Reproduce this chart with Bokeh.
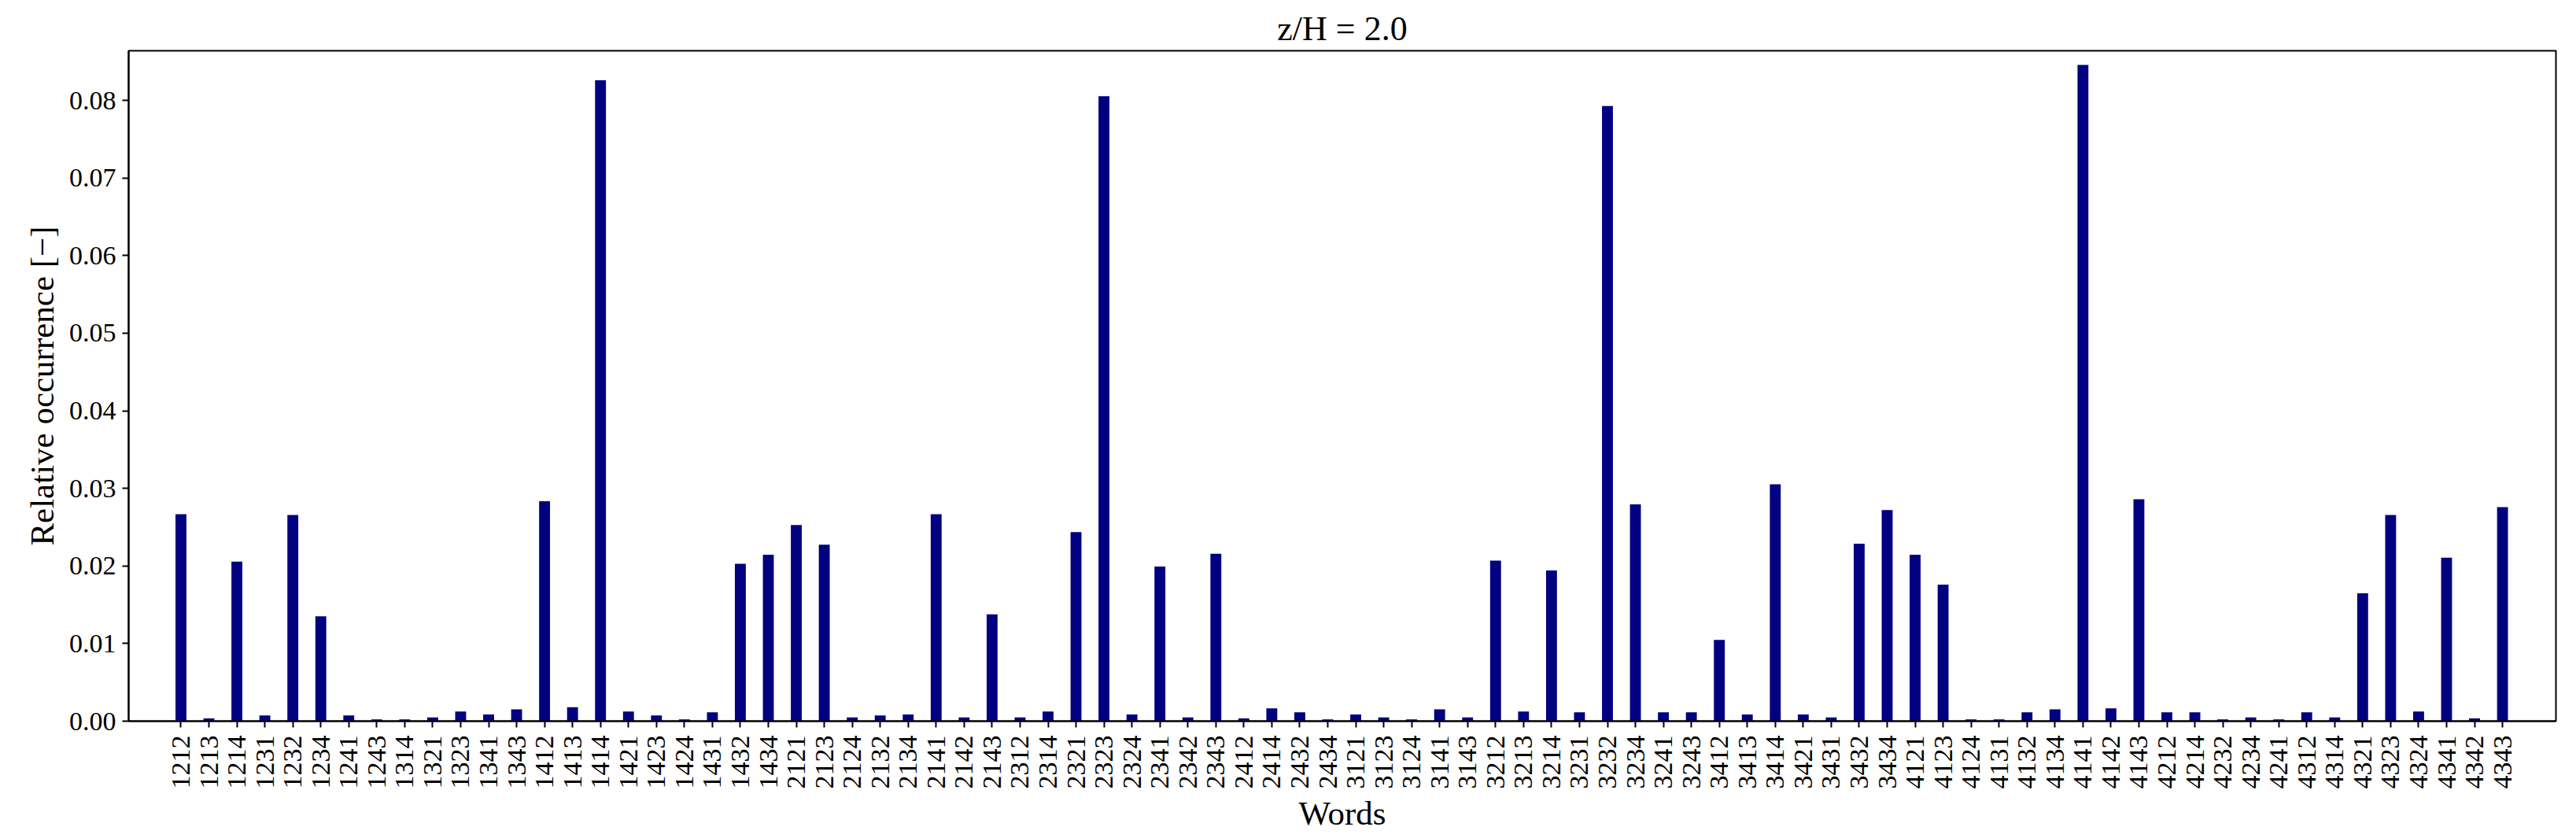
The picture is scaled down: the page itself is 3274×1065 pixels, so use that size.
import math
from bokeh.plotting import figure
from bokeh.models import Range1d, FixedTicker, NumeralTickFormatter
from bokeh.embed import file_html
from bokeh.resources import INLINE

words = ["1212", "1213", "1214", "1231", "1232", "1234", "1241", "1243", "1314", "1321",
         "1323", "1341", "1343", "1412", "1413", "1414", "1421", "1423", "1424", "1431",
         "1432", "1434", "2121", "2123", "2124", "2132", "2134", "2141", "2142", "2143",
         "2312", "2314", "2321", "2323", "2324", "2341", "2342", "2343", "2412", "2414",
         "2432", "2434", "3121", "3123", "3124", "3141", "3143", "3212", "3213", "3214",
         "3231", "3232", "3234", "3241", "3243", "3412", "3413", "3414", "3421", "3431",
         "3432", "3434", "4121", "4123", "4124", "4131", "4132", "4134", "4141", "4142",
         "4143", "4212", "4214", "4232", "4234", "4241", "4312", "4314", "4321", "4323",
         "4324", "4341", "4342", "4343"]

occurrence = [0.02667, 0.00036, 0.02055, 0.00073, 0.02656, 0.01352, 0.00073, 0.00022, 0.00022, 0.00047,
              0.00124, 0.00087, 0.00153, 0.02834, 0.00179, 0.08260, 0.00124, 0.00073, 0.00022, 0.00113,
              0.02029, 0.02146, 0.02528, 0.02273, 0.00047, 0.00073, 0.00087, 0.02667, 0.00047, 0.01377,
              0.00047, 0.00124, 0.02437, 0.08055, 0.00087, 0.01993, 0.00047, 0.02157, 0.00036, 0.00164,
              0.00113, 0.00022, 0.00087, 0.00047, 0.00022, 0.00153, 0.00047, 0.02069, 0.00124, 0.01942,
              0.00113, 0.07928, 0.02794, 0.00113, 0.00113, 0.01046, 0.00087, 0.03053, 0.00087, 0.00047,
              0.02288, 0.02721, 0.02146, 0.01760, 0.00022, 0.00022, 0.00113, 0.00153, 0.08457, 0.00164,
              0.02860, 0.00113, 0.00113, 0.00022, 0.00047, 0.00022, 0.00113, 0.00047, 0.01647, 0.02656,
              0.00124, 0.02106, 0.00036, 0.02758]

y_ticks = [0.0, 0.01, 0.02, 0.03, 0.04, 0.05, 0.06, 0.07, 0.08]

title_text = "z/H = 2.0"
x_label = "Words"
y_label = "Relative occurrence [\u2212]"

positions = list(range(len(words)))

FONT = "Liberation Serif"

x_start, x_end = -1.87, len(words) - 1 + 1.91
y_top = 0.0864

p = figure(width=3274, height=1065, output_backend="svg", toolbar_location=None,
           x_range=Range1d(x_start, x_end),
           y_range=Range1d(0, y_top),
           min_border_left=163, min_border_right=26, min_border_top=64, min_border_bottom=149)

p.vbar(x=positions, top=occurrence, width=0.39, fill_color="navy", line_color=None)

p.title.text = title_text
p.title.align = "center"
p.title.text_font = FONT
p.title.text_font_size = "44px"
p.title.text_font_style = "normal"
p.title.text_color = "black"
p.title.standoff = 8

p.xgrid.visible = False
p.ygrid.visible = False
p.outline_line_color = "black"
p.outline_line_width = 2
p.background_fill_color = "white"
p.border_fill_color = "white"

p.xaxis.ticker = FixedTicker(ticks=positions)
p.xaxis.major_label_overrides = {i: w for i, w in enumerate(words)}
p.xaxis.major_label_orientation = math.pi / 2
p.yaxis.ticker = FixedTicker(ticks=y_ticks)
p.yaxis.formatter = NumeralTickFormatter(format="0.00")

p.xaxis.axis_label = x_label
p.yaxis.axis_label = y_label

for ax in (p.xaxis[0], p.yaxis[0]):
    ax.axis_line_color = "black"
    ax.axis_line_width = 2
    ax.major_tick_line_color = "black"
    ax.major_tick_line_width = 2
    ax.major_tick_out = 8
    ax.major_tick_in = 0
    ax.minor_tick_out = 0
    ax.minor_tick_in = 0
    ax.major_label_text_font = FONT
    ax.major_label_text_font_size = "34px"
    ax.major_label_text_color = "black"
    ax.axis_label_text_font = FONT
    ax.axis_label_text_font_size = "43px"
    ax.axis_label_text_font_style = "normal"
    ax.axis_label_text_color = "black"

p.xaxis.major_label_standoff = 10
p.xaxis.axis_label_standoff = 4
p.yaxis.major_label_standoff = 8
p.yaxis.axis_label_standoff = 8

open("out.html", "w").write(file_html(p, INLINE))
